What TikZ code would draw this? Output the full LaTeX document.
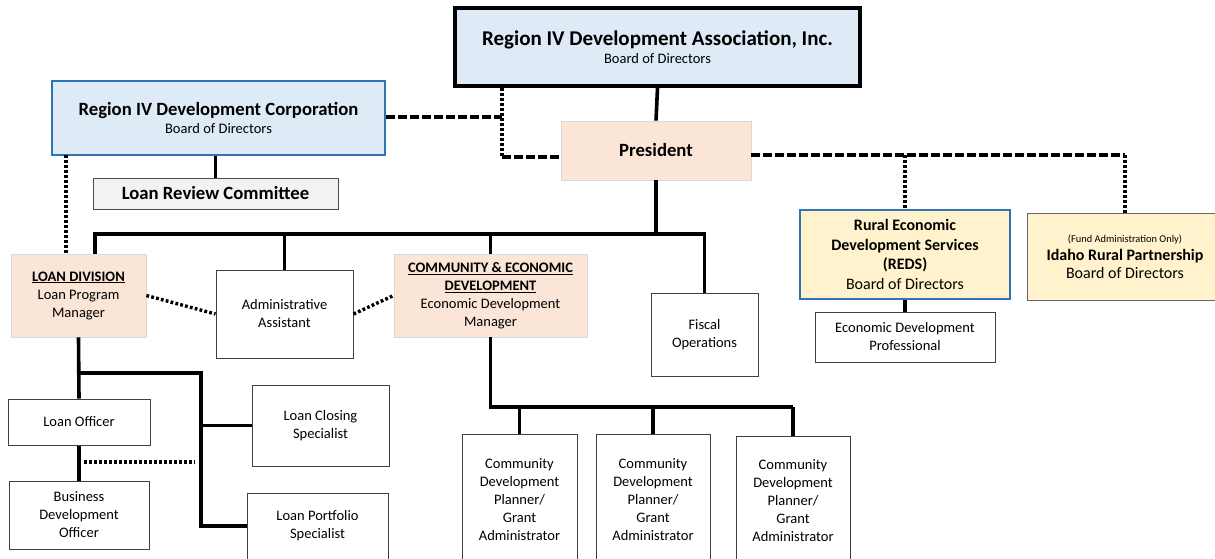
\documentclass[tikz,border=0pt]{standalone}
\usepackage{fontspec}
\setmainfont{Carlito}
\usetikzlibrary{positioning}
\definecolor{boardblue}{RGB}{222,235,247}
\definecolor{corpblue}{RGB}{46,117,182}
\definecolor{mgrpeach}{RGB}{251,229,214}
\definecolor{affyellow}{RGB}{255,242,204}
\definecolor{lrcgray}{RGB}{242,242,242}

\tikzset{
  orgbox/.style={rectangle,draw=black!75,line width=1pt,fill=white,align=center,inner sep=0pt,font=\fontsize{14.5}{18}\selectfont},
  boardbox/.style={orgbox,draw=corpblue,line width=2.4pt,fill=boardblue},
  mgrbox/.style={orgbox,draw=black!15,line width=0.8pt,fill=mgrpeach},
  affbox/.style={orgbox,fill=affyellow,draw=black!60},
  solidline/.style={line width=3.6pt},
  dashline/.style={line width=3.6pt,dash pattern=on 8.5pt off 3.5pt},
  dotline/.style={line width=3.4pt,dash pattern=on 2.8pt off 2.2pt},
}

\begin{document}
\begin{tikzpicture}[x=1pt,y=-1pt]
    \clip (0,0) rectangle (1215,558);
    \fill[white] (0,0) rectangle (1215,558);

    % Boards
    \node[boardbox,draw=black,line width=4pt,minimum width=405pt,minimum height=78pt] (assoc) at (657.5,47) {{\fontsize{21}{24}\selectfont\bfseries Region IV Development Association, Inc.}\\Board of Directors};
    \node[boardbox,minimum width=333pt,minimum height=74pt] (corp) at (218.5,118) {{\fontsize{18.7}{22}\selectfont\bfseries Region IV Development Corporation}\\Board of Directors};
    \node[orgbox,fill=lrcgray,draw=black!70,minimum width=245pt,minimum height=31pt,font=\fontsize{18.7}{22}\selectfont\bfseries] (lrc) at (215.5,193.5) {Loan Review Committee};
    \node[mgrbox,minimum width=190pt,minimum height=59pt,font=\fontsize{18.7}{22}\selectfont\bfseries] (pres) at (656,150.5) {President};

    % Staff under the president
    \node[mgrbox,minimum width=135pt,minimum height=83pt] (loandiv) at (78.5,295.5) {\textbf{\underline{LOAN DIVISION}}\\Loan Program\\Manager};
    \node[orgbox,minimum width=137pt,minimum height=88pt] (admin) at (284.5,314) {Administrative\\Assistant};
    \node[mgrbox,minimum width=193pt,minimum height=83pt] (cedev) at (490.5,295.5) {\textbf{\underline{COMMUNITY \& ECONOMIC}}\\\textbf{\underline{DEVELOPMENT}}\\Economic Development\\Manager};
    \node[orgbox,minimum width=107pt,minimum height=83pt] (fiscal) at (704.5,334.5) {Fiscal\\Operations};

    % Affiliates
    \node[boardbox,fill=affyellow,minimum width=210pt,minimum height=89pt,font=\fontsize{16}{19.5}\selectfont] (reds) at (905,254.5) {\textbf{Rural Economic}\\\textbf{Development Services}\\\textbf{(REDS)}\\Board of Directors};
    \node[affbox,minimum width=196pt,minimum height=87pt,font=\fontsize{16}{18}\selectfont] (irp) at (1125,256.5) {{\fontsize{10.4}{12}\selectfont (Fund Administration Only)}\\\textbf{Idaho Rural Partnership}\\Board of Directors};
    \node[orgbox,minimum width=180pt,minimum height=50pt] (edp) at (905,337) {Economic Development\\Professional};

    % Loan division staff
    \node[orgbox,minimum width=142pt,minimum height=46pt] (lofficer) at (79,422) {Loan Officer};
    \node[orgbox,minimum width=140pt,minimum height=68pt] (bdo) at (79,515) {Business\\Development\\Officer};
    \node[orgbox,minimum width=137pt,minimum height=81pt] (lclose) at (320.5,425.5) {Loan Closing\\Specialist};
    \node[orgbox,minimum width=141pt,minimum height=66pt] (lport) at (317.5,526) {Loan Portfolio\\Specialist};

    % Community development planners
    \node[orgbox,minimum width=115pt,minimum height=132pt] (cdp1) at (519.5,500) {Community\\Development\\Planner/\\Grant\\Administrator};
    \node[orgbox,minimum width=114pt,minimum height=132pt] (cdp2) at (653,500) {Community\\Development\\Planner/\\Grant\\Administrator};
    \node[orgbox,minimum width=114pt,minimum height=130pt] (cdp3) at (793,501) {Community\\Development\\Planner/\\Grant\\Administrator};

    % Board connections
    \coordinate (jc) at (502,117);
    \coordinate (jp) at (502,157);
    \coordinate (cd) at (66,155);
    \draw[solidline] (assoc.south) -- (pres.north);
    \draw[dashline] (corp.east |- jc) -- (jc);
    \draw[dotline] (jc |- assoc.south) -- (jp);
    \draw[dashline] (jp) -- (jp -| pres.west);
    \draw[dotline] (cd) -- (cd |- loandiv.north);
    \draw[solidline] (lrc.north |- corp.south) -- (lrc.north);

    % President to staff
    \coordinate (bus) at (95,234);
    \draw[solidline] (pres.south) -- (pres.south |- bus);
    \draw[solidline] (bus |- loandiv.north) -- (bus) -- (bus -| fiscal.north) -- (fiscal.north);
    \draw[solidline] (admin.north) -- (admin.north |- bus);
    \draw[solidline] (cedev.north) -- (cedev.north |- bus);
    \draw[dotline] (loandiv.east) -- (admin.west);
    \draw[dotline] (admin.east) -- (cedev.west);

    % President to affiliates
    \coordinate (aff) at (1125,155);
    \draw[dashline] (pres.east |- aff) -- (aff);
    \draw[dotline] (reds.north |- aff) -- (reds.north);
    \draw[dotline] (aff) -- (irp.north);
    \draw[solidline] (reds.south) -- (edp.north);

    % Loan division
    \coordinate (lbr) at (201,373);
    \coordinate (ldot) at (84,462);
    \coordinate (ldotend) at (195,462);
    \draw[solidline] (loandiv.south) -- (lofficer.north);
    \draw[solidline] (lofficer.south) -- (bdo.north);
    \draw[solidline] (lbr -| loandiv.south) -- (lbr) -- (lbr |- lport.west) -- (lport.west);
    \draw[solidline] (lbr |- lclose.west) -- (lclose.west);
    \draw[dotline] (ldot) -- (ldotend);

    % Community and economic development
    \coordinate (cbus) at (491,407);
    \draw[solidline] (cedev.south) -- (cedev.south |- cbus) -- (cbus -| cdp3.north);
    \foreach \n in {cdp1,cdp2,cdp3}
        \draw[solidline] (\n.north |- cbus) -- (\n.north);
\end{tikzpicture}
\end{document}
